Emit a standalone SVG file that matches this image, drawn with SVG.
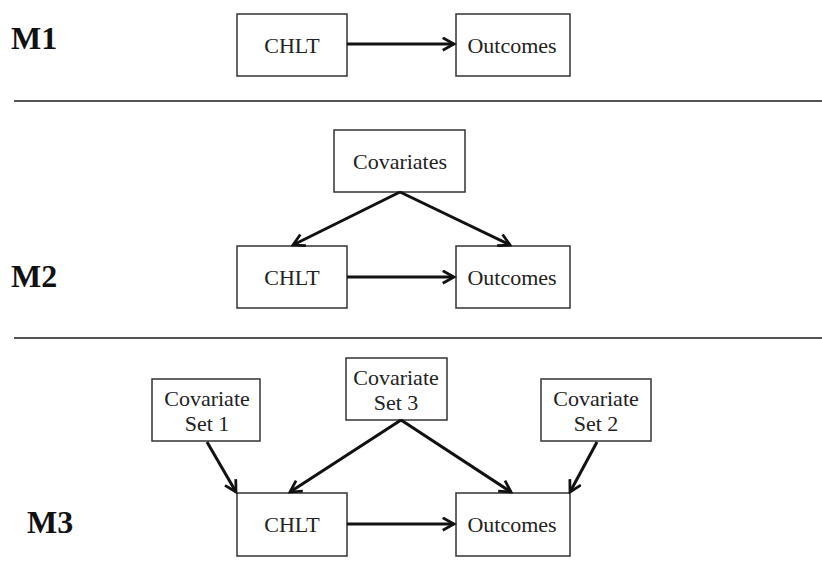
<svg xmlns="http://www.w3.org/2000/svg" width="822" height="567" viewBox="0 0 822 567">
<defs>
<style>
.box{fill:#fff;stroke:#333;stroke-width:1.5}
.t{font-family:"Liberation Serif",serif;font-size:22px;fill:#222;text-anchor:middle}
.m{font-family:"Liberation Serif",serif;font-size:32px;font-weight:bold;fill:#111}
.sep{stroke:#555;stroke-width:2}
.c{stroke:#111;stroke-width:3;fill:none;marker-end:url(#ah)}
</style>
<marker id="ah" viewBox="0 0 12 12" refX="10" refY="6" markerWidth="5" markerHeight="5" orient="auto" markerUnits="strokeWidth">
<polyline points="1,1 10,6 1,11" fill="none" stroke="#111" stroke-width="2.2" stroke-linejoin="miter"/>
</marker>
</defs>
<rect width="822" height="567" fill="#fff"/>
<text class="m" x="11" y="49">M1</text>
<text class="m" x="11" y="287">M2</text>
<text class="m" x="27" y="533">M3</text>
<line class="sep" x1="14" y1="101" x2="822" y2="101"/>
<line class="sep" x1="14" y1="338" x2="822" y2="338"/>
<g id="m1-chlt"><rect class="box" x="237" y="14" width="110" height="62"/><text class="t" x="292" y="53">CHLT</text></g>
<g id="m1-outcomes"><rect class="box" x="456" y="14" width="114" height="62"/><text class="t" x="512" y="53">Outcomes</text></g>
<g id="m2-covariates"><rect class="box" x="334" y="130" width="131" height="62"/><text class="t" x="400" y="169">Covariates</text></g>
<g id="m2-chlt"><rect class="box" x="237" y="246" width="110" height="62"/><text class="t" x="292" y="285">CHLT</text></g>
<g id="m2-outcomes"><rect class="box" x="456" y="246" width="114" height="62"/><text class="t" x="512" y="285">Outcomes</text></g>
<g id="m3-set1"><rect class="box" x="152" y="379" width="108" height="62"/><text class="t" x="207" y="406">Covariate</text><text class="t" x="207" y="431">Set 1</text></g>
<g id="m3-set3"><rect class="box" x="346" y="358" width="101" height="62"/><text class="t" x="396" y="385">Covariate</text><text class="t" x="396" y="410">Set 3</text></g>
<g id="m3-set2"><rect class="box" x="541" y="379" width="110" height="62"/><text class="t" x="596" y="406">Covariate</text><text class="t" x="596" y="431">Set 2</text></g>
<g id="m3-chlt"><rect class="box" x="237" y="493" width="110" height="63"/><text class="t" x="292" y="532">CHLT</text></g>
<g id="m3-outcomes"><rect class="box" x="456" y="493" width="114" height="63"/><text class="t" x="512" y="532">Outcomes</text></g>
<g id="connectors">
<line class="c" x1="347" y1="44" x2="454" y2="44"/>
<line class="c" x1="400" y1="192" x2="293" y2="245"/>
<line class="c" x1="400" y1="192" x2="510" y2="245"/>
<line class="c" x1="347" y1="277" x2="454" y2="277"/>
<line class="c" x1="207" y1="442" x2="236" y2="492"/>
<line class="c" x1="401" y1="420" x2="290" y2="492"/>
<line class="c" x1="401" y1="420" x2="511" y2="492"/>
<line class="c" x1="597" y1="442" x2="570" y2="492"/>
<line class="c" x1="347" y1="524" x2="454" y2="524"/>
</g>
</svg>
